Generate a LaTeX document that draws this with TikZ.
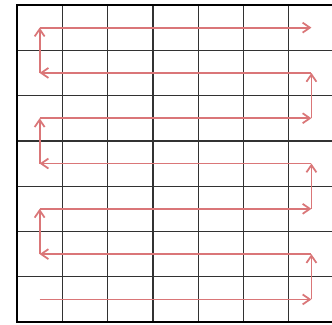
\documentclass[tikz,border=0pt]{standalone}
\usepackage{tikz}
\usetikzlibrary{arrows.meta}
\definecolor{pathred}{RGB}{218,118,120}
\definecolor{gridgrey}{RGB}{50,50,50}
\tikzset{
  cellline/.style={gridgrey,line width=0.8pt},
  outerframe/.style={black,line width=1.7pt},
  sweep/.style={-{Straight Barb[length=1.6mm,width=2.2mm]},pathred,line width=1.1pt}
}

\begin{document}
\begin{tikzpicture}
  \useasboundingbox (-0.375,-0.064) rectangle (6.954,7.110);
  \draw[cellline] (0,0) grid (7,7);
  \draw[outerframe] (0,0) rectangle (7,7);
  % first and last cell centre of each row
  \foreach \r in {1,...,7}{
    \coordinate (l\r) at (0.5,7.5-\r);
    \coordinate (r\r) at (6.5,7.5-\r);
  }
  \draw[sweep] (l7)--(r7);\draw[sweep] (r7)--(r6);
  \draw[sweep] (r6)--(l6);\draw[sweep] (l6)--(l5);
  \draw[sweep] (l5)--(r5);\draw[sweep] (r5)--(r4);
  \draw[sweep] (r4)--(l4);\draw[sweep] (l4)--(l3);
  \draw[sweep] (l3)--(r3);\draw[sweep] (r3)--(r2);
  \draw[sweep] (r2)--(l2);\draw[sweep] (l2)--(l1);
  \draw[sweep] (l1)--(r1);
\end{tikzpicture}
\end{document}
